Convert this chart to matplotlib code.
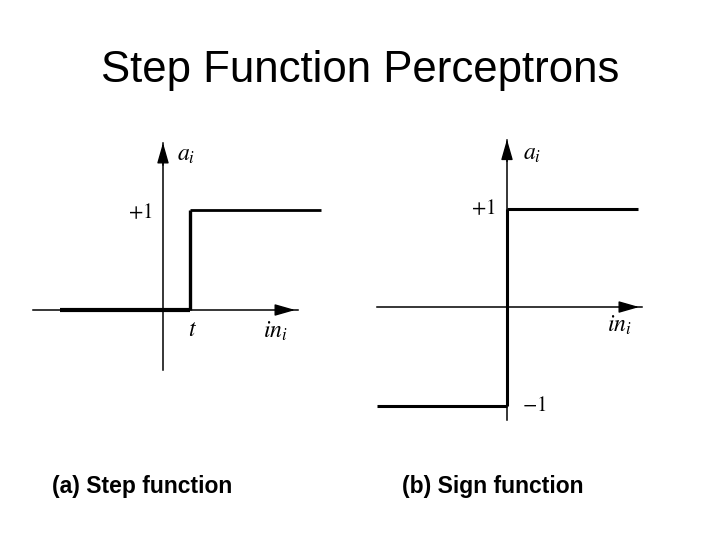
import matplotlib as mpl
mpl.use('agg')
import matplotlib.pyplot as plt

plt.rcParams['font.family'] = ['Liberation Sans', 'DejaVu Sans']
plt.rcParams['mathtext.fontset'] = 'stix'

# (a) step function, threshold t
t = 0.27
step_x_low = [-1.03, t]
step_y_low = [0, 0]
step_x_rise = [t, t]
step_y_rise = [0, 1]
step_x_high = [t, 1.58]
step_y_high = [1, 1]

# (b) sign function
sign_x_low = [-1.32, 0]
sign_y_low = [-1, -1]
sign_x_rise = [0, 0]
sign_y_rise = [-1, 1]
sign_x_high = [0, 1.33]
sign_y_high = [1, 1]

fig = plt.figure(figsize=(7.2, 5.4), dpi=100)
fig.text(0.5, 0.87, 'Step Function Perceptrons', ha='center', va='center', fontsize=31.5)

def draw_axes(ax, xaxis, yaxis):
    ax.plot(xaxis, [0, 0], color='k', lw=1.1)
    ax.plot([0, 0], [yaxis[0], yaxis[1]], color='k', lw=1.1)
    style = '-|>,head_length=0.7,head_width=0.2'
    ax.annotate('', xy=(xaxis[1], 0), xytext=(xaxis[1] - 0.25, 0),
                arrowprops=dict(arrowstyle=style, color='k', lw=1, mutation_scale=18))
    ax.annotate('', xy=(0, yaxis[1] + 0.03), xytext=(0, yaxis[1] - 0.25),
                arrowprops=dict(arrowstyle=style, color='k', lw=1, mutation_scale=18))

# left panel, 100 px per unit, origin at (163, 310)
ax1 = fig.add_axes([0, 0, 0.5, 1])
ax1.set_xlim(-1.63, 1.97)
ax1.set_ylim(-2.3, 3.1)
ax1.axis('off')
draw_axes(ax1, [-1.30, 1.35], [-0.60, 1.67])
ax1.plot(step_x_low, step_y_low, color='k', lw=3.0, solid_capstyle='butt')
ax1.plot(step_x_rise, step_y_rise, color='k', lw=2.4, solid_capstyle='butt')
ax1.plot(step_x_high, step_y_high, color='k', lw=2.0, solid_capstyle='butt')
ax1.text(-0.10, 0.98, '$+1$', ha='right', va='center', fontsize=15)
ax1.text(0.14, 1.55, '$a_i$', ha='left', va='center', fontsize=17)
ax1.text(t + 0.02, -0.20, '$t$', ha='center', va='center', fontsize=17)
ax1.text(1.12, -0.21, '$in_i$', ha='center', va='center', fontsize=17)
ax1.text(-1.11, -1.77, '(a) Step function', ha='left', va='center', fontsize=16.5,
         fontweight='bold')

# right panel, 98.5 px per unit, origin at (507, 307)
ax2 = fig.add_axes([0.5, 0, 0.5, 1])
ax2.set_xlim(-1.492, 2.162)
ax2.set_ylim(-2.365, 3.117)
ax2.axis('off')
draw_axes(ax2, [-1.32, 1.37], [-1.15, 1.70])
ax2.plot(sign_x_low, sign_y_low, color='k', lw=2.2, solid_capstyle='butt')
ax2.plot(sign_x_rise, sign_y_rise, color='k', lw=2.2, solid_capstyle='butt')
ax2.plot(sign_x_high, sign_y_high, color='k', lw=2.2, solid_capstyle='butt')
ax2.text(-0.12, 1.0, '$+1$', ha='right', va='center', fontsize=15)
ax2.text(0.16, 1.55, '$a_i$', ha='left', va='center', fontsize=17)
ax2.text(1.14, -0.19, '$in_i$', ha='center', va='center', fontsize=17)
ax2.text(0.15, -1.0, '$-1$', ha='left', va='center', fontsize=15)
ax2.text(-1.07, -1.82, '(b) Sign function', ha='left', va='center', fontsize=16.5,
         fontweight='bold')

fig.savefig('out.png', dpi=100)
